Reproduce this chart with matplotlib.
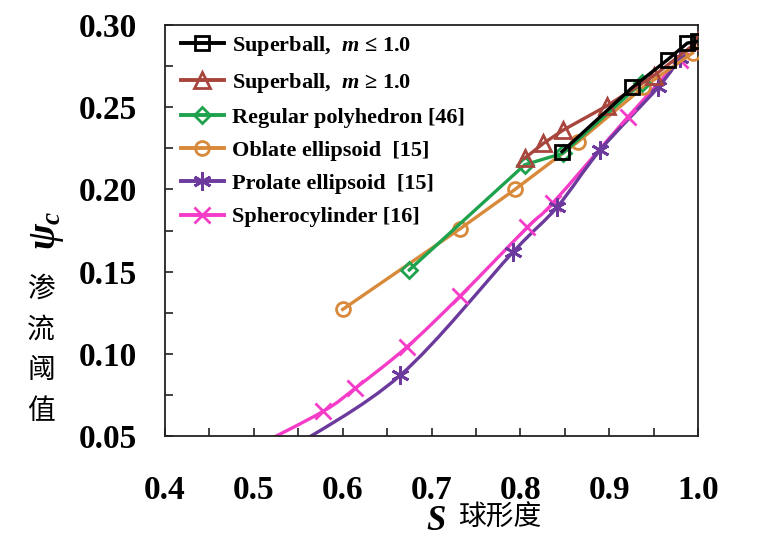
import matplotlib
matplotlib.use("Agg")
import matplotlib.pyplot as plt
import numpy as np
from matplotlib.path import Path
from matplotlib.patches import PathPatch
from matplotlib.lines import Line2D
from matplotlib.ticker import MultipleLocator, FormatStrFormatter

plt.rcParams['mathtext.fontset'] = 'custom'
plt.rcParams['mathtext.it'] = 'Liberation Serif:bold:italic'
plt.rcParams['mathtext.rm'] = 'Liberation Serif:bold'
plt.rcParams['mathtext.bf'] = 'Liberation Serif:bold'

# ---- data ----
sb_lo_x = [0.847, 0.926, 0.966, 0.988, 1.0]
sb_lo_y = [0.223, 0.262, 0.279, 0.289, 0.290]

sb_hi_x = [0.805, 0.826, 0.848, 0.898, 0.950, 1.0]
sb_hi_y = [0.219, 0.228, 0.236, 0.251, 0.269, 0.290]

poly_x = [0.675, 0.805, 0.848, 0.937]
poly_y = [0.151, 0.215, 0.222, 0.265]

obl_x = [0.600, 0.732, 0.794, 0.865, 0.938, 0.994]
obl_y = [0.127, 0.176, 0.200, 0.229, 0.262, 0.283]

pro_x = [0.540, 0.665, 0.792, 0.841, 0.890, 0.955, 0.980]
pro_y = [0.042, 0.087, 0.162, 0.189, 0.224, 0.262, 0.280]

sph_x = [0.500, 0.578, 0.614, 0.672, 0.732, 0.808, 0.837, 0.921, 0.980]
sph_y = [0.043, 0.065, 0.079, 0.104, 0.135, 0.177, 0.192, 0.244, 0.279]

labels = ["Superball,  $m$ \u2264 1.0", "Superball,  $m$ \u2265 1.0",
          "Regular polyhedron [46]", "Oblate ellipsoid  [15]",
          "Prolate ellipsoid  [15]", "Spherocylinder [16]"]

xticks = [0.4, 0.5, 0.6, 0.7, 0.8, 0.9, 1.0]
yticks = [0.05, 0.10, 0.15, 0.20, 0.25, 0.30]

c_black = '#000000'
c_brown = '#A8453D'
c_green = '#1FA24E'
c_orange = '#D9893A'
c_purple = '#6B3A9C'
c_pink = '#F53CC9'

fig = plt.figure(figsize=(7.68, 5.42), dpi=100)
ax = fig.add_axes([165/768, 1-436/542, (698-165)/768, (436-25)/542])

lw = 2.4
mew = 2.0

def smooth_path(xs, ys):
    xs = np.asarray(xs, float); ys = np.asarray(ys, float)
    n = len(xs)
    verts = [(xs[0], ys[0])]
    codes = [Path.MOVETO]
    for i in range(n-1):
        p0 = np.array([xs[max(i-1, 0)], ys[max(i-1, 0)]])
        p1 = np.array([xs[i], ys[i]])
        p2 = np.array([xs[i+1], ys[i+1]])
        p3 = np.array([xs[min(i+2, n-1)], ys[min(i+2, n-1)]])
        c1 = p1 + (p2 - p0) / 6.0
        c2 = p2 - (p3 - p1) / 6.0
        verts += [tuple(c1), tuple(c2), tuple(p2)]
        codes += [Path.CURVE4] * 3
    return Path(verts, codes)

styles = [
    (sb_lo_x, sb_lo_y, c_black, 's', 10, False),
    (sb_hi_x, sb_hi_y, c_brown, '^', 11, False),
    (poly_x, poly_y, c_green, 'D', 8, False),
    (obl_x, obl_y, c_orange, 'o', 10, False),
    (pro_x, pro_y, c_purple, (6, 2, 0), 13, True),
    (sph_x, sph_y, c_pink, 'x', 11, True),
]

handles = []
for i in range(len(styles) - 1, -1, -1):
    xs, ys, col, mk, ms, smooth = styles[i]
    if smooth:
        patch = PathPatch(smooth_path(xs, ys), facecolor='none', edgecolor=col,
                          lw=lw, transform=ax.transData, zorder=2 + (6 - i) * 0.1)
        ax.add_patch(patch)
        ax.plot(xs, ys, linestyle='none', marker=mk, ms=ms, mec=col, mfc='none',
                mew=mew, zorder=3 + (6 - i) * 0.1)
    else:
        ax.plot(xs, ys, '-', color=col, lw=lw, marker=mk, ms=ms, mec=col,
                mfc='none', mew=mew, zorder=3 + (6 - i) * 0.1)

for i, (xs, ys, col, mk, ms, smooth) in enumerate(styles):
    handles.append(Line2D([], [], color=col, lw=2.8, marker=mk, ms=ms, mec=col,
                          mfc='none', mew=mew))

ax.set_xlim(0.4, 1.0)
ax.set_ylim(0.05, 0.30)
ax.set_xticks(xticks)
ax.set_yticks(yticks)
ax.xaxis.set_minor_locator(MultipleLocator(0.05))
ax.yaxis.set_minor_locator(MultipleLocator(0.025))
ax.xaxis.set_major_formatter(FormatStrFormatter('%.1f'))
ax.yaxis.set_major_formatter(FormatStrFormatter('%.2f'))

for sp in ax.spines.values():
    sp.set_linewidth(1.3)
    sp.set_color('#222222')

ax.tick_params(axis='both', which='both', direction='in', top=False, right=False,
               width=1.2, color='#222222')
ax.tick_params(axis='x', which='both', length=6, pad=28)
ax.tick_params(axis='y', which='both', length=6, pad=20)
for lab in ax.get_xticklabels() + ax.get_yticklabels():
    lab.set_fontfamily('Liberation Serif')
    lab.set_fontweight('bold')
    lab.set_fontsize(24)

leg = ax.legend(handles, labels, loc='upper left', bbox_to_anchor=(0.014, 1.0),
                frameon=False,
                prop=dict(family='Liberation Serif', weight='bold', size=16),
                handlelength=1.9, handletextpad=0.4, labelspacing=0.57,
                borderaxespad=0.1, borderpad=0.3)

# axis labels
fig.text(47/768, 1-230/542, r'$\psi_c$', rotation=90, ha='center', va='center',
         fontsize=28)
for ch, yy in zip("渗流阈值", [289, 330, 370, 411]):
    fig.text(41/768, 1-yy/542, ch, ha='center', va='center', fontsize=20,
             family='Noto Sans CJK SC', weight='light')

fig.text(436/768, 1-520/542, r'$S$', ha='center', va='center', fontsize=25)
fig.text(500/768, 1-518/542, "球形度", ha='center', va='center', fontsize=20,
         family='Noto Sans CJK SC', weight='light')

fig.savefig('out.png', dpi=100)
